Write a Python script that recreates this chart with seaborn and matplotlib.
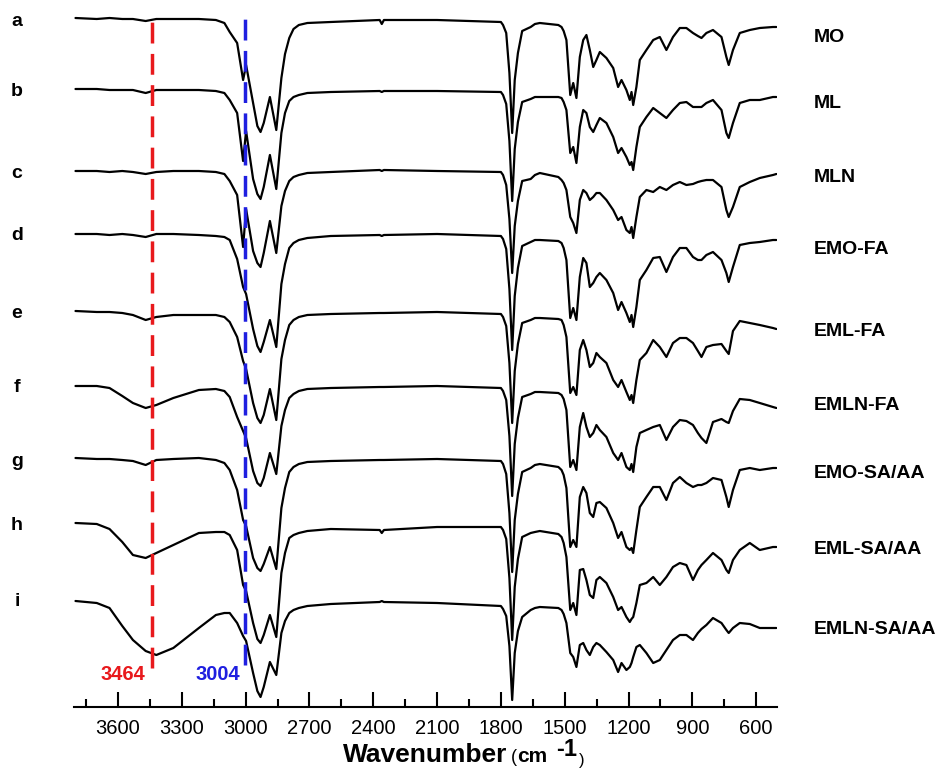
import numpy as np
import pandas as pd
import matplotlib
matplotlib.use("Agg")
import matplotlib.pyplot as plt
import seaborn as sns
from matplotlib.ticker import MultipleLocator

# wavenumber grid (cm-1) shared by all spectra
wavenumber = [3800, 3700, 3640, 3580, 3530, 3470, 3420, 3340, 3220, 3140, 3100,
              3075, 3040, 3012, 2998, 2965, 2945, 2930, 2915, 2886, 2856, 2832, 2815, 2795, 2775, 2750, 2710,
              2600, 2370, 2360, 2350, 2100, 1800, 1790, 1775, 1760, 1747, 1735, 1720, 1700, 1660, 1640, 1617,
              1530, 1515, 1505, 1492, 1474, 1460, 1445, 1429, 1413, 1398, 1382, 1366, 1351, 1335, 1304,
              1272, 1249, 1233, 1210, 1194, 1186, 1178, 1163, 1147,
              1116, 1084, 1053, 1022, 991, 959, 928, 897, 874, 857, 834, 803, 763, 740, 729, 709, 677,
              630, 583, 521, 505]

# transmittance drop (a.u.) of each sample
mo = [0, 1, 0, 1, 1, 3, 1, 1, 1, 2, 5,
      14, 25, 62, 47, 85, 108, 114, 105, 79, 112, 60, 36, 20, 11, 7, 5,
      4, 2, 6, 2, 2, 4, 7, 15, 55, 115, 62, 35, 13, 9, 6, 5,
      7, 9, 13, 22, 77, 65, 80, 39, 22, 17, 32, 49, 42, 34, 40, 50, 69, 62, 72, 82, 74, 87, 69, 42,
      32, 22, 19, 32, 19, 10, 10, 15, 18, 20, 15, 12, 19, 39, 47, 32, 15, 12, 10, 9, 9]
ml = [0, 0, 1, 1, 1, 4, 1, 1, 1, 2, 4,
      11, 24, 72, 42, 90, 105, 110, 98, 66, 100, 44, 24, 12, 8, 6, 4,
      3, 2, 3, 2, 2, 3, 6, 15, 52, 112, 60, 33, 13, 10, 8, 8,
      8, 9, 13, 21, 64, 58, 74, 38, 21, 24, 38, 43, 36, 29, 34, 48, 64, 59, 68, 76, 73, 81, 58, 38,
      28, 19, 24, 29, 21, 14, 13, 18, 18, 18, 14, 11, 21, 44, 49, 34, 14, 11, 11, 8, 8]
mln = [0, 0, 1, 0, 1, 3, 1, 0, 0, 1, 3,
       10, 24, 76, 38, 80, 92, 96, 82, 50, 82, 35, 20, 10, 6, 4, 2,
       1, -1, 0, -1, 0, 1, 4, 14, 48, 102, 55, 30, 10, 8, 4, 2,
       6, 9, 12, 19, 46, 52, 62, 29, 19, 22, 29, 26, 22, 22, 29, 39, 49, 46, 59, 62, 56, 67, 46, 26,
       19, 21, 16, 19, 14, 11, 14, 13, 11, 10, 9, 9, 16, 39, 46, 36, 16, 11, 7, 4, 3]
emo_fa = [0, 0, 1, 0, 1, 3, 0, 0, 1, 2, 3,
          6, 25, 53, 60, 95, 112, 118, 108, 86, 113, 50, 30, 14, 9, 6, 4,
          2, 1, 2, 1, 0, 2, 5, 15, 55, 116, 62, 34, 12, 8, 6, 6,
          7, 9, 14, 26, 84, 74, 86, 43, 24, 29, 53, 49, 43, 39, 46, 59, 76, 68, 79, 88, 81, 93, 73, 46,
          36, 24, 23, 38, 23, 14, 14, 23, 26, 26, 21, 18, 26, 39, 48, 33, 11, 9, 8, 6, 6]
eml_fa = [0, 1, 1, 2, 4, 9, 6, 4, 4, 4, 6,
          11, 26, 50, 58, 92, 107, 112, 104, 78, 109, 48, 29, 14, 9, 6, 4,
          3, 2, 2, 2, 1, 3, 6, 15, 52, 112, 60, 33, 12, 9, 7, 7,
          8, 9, 14, 26, 82, 76, 84, 39, 29, 39, 56, 52, 42, 46, 52, 69, 76, 69, 81, 89, 84, 92, 69, 49,
          42, 29, 36, 46, 32, 27, 27, 32, 40, 46, 36, 34, 33, 40, 43, 20, 10, 12, 14, 17, 18]
emln_fa = [0, 0, 2, 10, 17, 22, 19, 12, 4, 3, 5,
           11, 31, 45, 52, 85, 97, 100, 92, 67, 88, 40, 24, 12, 8, 5, 3,
           2, 1, 1, 1, 0, 2, 5, 14, 50, 110, 58, 32, 11, 8, 6, 6,
           7, 9, 13, 24, 81, 74, 84, 41, 27, 41, 51, 47, 39, 44, 51, 67, 74, 67, 81, 84, 78, 86, 61, 47,
           44, 41, 39, 54, 41, 34, 35, 39, 47, 52, 57, 36, 33, 36, 37, 25, 13, 14, 17, 21, 22]
emo_saaa = [0, 1, 1, 2, 3, 7, 2, 1, 0, 2, 5,
            12, 32, 62, 68, 100, 110, 113, 106, 89, 111, 50, 30, 14, 9, 6, 4,
            3, 2, 2, 2, 1, 3, 6, 16, 55, 114, 62, 36, 14, 10, 7, 6,
            9, 12, 17, 30, 89, 82, 89, 39, 29, 35, 55, 59, 45, 44, 50, 65, 80, 74, 89, 92, 90, 95, 72, 49,
            39, 29, 29, 42, 25, 19, 25, 29, 27, 27, 25, 20, 22, 39, 49, 32, 12, 10, 12, 10, 10]
eml_saaa = [0, 1, 6, 19, 32, 35, 30, 22, 10, 9, 9,
            12, 27, 62, 68, 100, 116, 120, 112, 92, 114, 50, 30, 15, 12, 10, 8,
            6, 7, 10, 7, 4, 4, 7, 16, 55, 117, 64, 36, 14, 10, 9, 8,
            11, 14, 20, 34, 87, 80, 92, 47, 46, 57, 72, 75, 57, 54, 60, 74, 87, 84, 94, 99, 96, 94, 80, 62,
            60, 54, 62, 54, 44, 40, 42, 57, 47, 42, 37, 30, 37, 47, 50, 37, 27, 20, 27, 24, 24]
emln_saaa = [0, 2, 7, 25, 39, 50, 54, 47, 27, 14, 12,
             12, 22, 35, 40, 72, 90, 96, 86, 61, 74, 32, 20, 12, 9, 7, 5,
             3, 1, 0, 1, 2, 5, 8, 15, 45, 99, 52, 30, 16, 9, 7, 6,
             7, 9, 13, 22, 52, 56, 66, 44, 42, 49, 54, 46, 42, 44, 51, 59, 71, 62, 69, 66, 62, 56, 46, 44,
             52, 62, 59, 49, 39, 34, 34, 39, 32, 28, 24, 17, 22, 29, 32, 27, 22, 23, 27, 27, 27]

samples = ["MO", "ML", "MLN", "EMO-FA", "EML-FA", "EMLN-FA", "EMO-SA/AA", "EML-SA/AA", "EMLN-SA/AA"]
letters = ["a", "b", "c", "d", "e", "f", "g", "h", "i"]
spectra = [mo, ml, mln, emo_fa, eml_fa, emln_fa, emo_saaa, eml_saaa, emln_saaa]

# vertical stacking of the traces and label placement
offsets = [689, 618, 536, 473, 396, 321, 249, 184, 106]
letter_y = [686, 616, 534, 472, 394, 320, 245, 182, 105]
name_y = [669, 604, 529, 458, 375, 302, 233, 157, 78]

frames = []
for name, drop, off in zip(samples, spectra, offsets):
    frames.append(pd.DataFrame({"wavenumber": wavenumber,
                                "signal": off - np.array(drop, dtype=float),
                                "sample": name}))
data = pd.concat(frames, ignore_index=True)

sns.set_theme(style="white")
plt.rcParams["font.family"] = ["Liberation Sans", "DejaVu Sans"]
plt.rcParams["text.color"] = "black"

fig = plt.figure(figsize=(9.45, 7.72), dpi=100)
ax = fig.add_axes([74 / 945, 65 / 772, 703 / 945, 707 / 772])

sns.lineplot(data=data, x="wavenumber", y="signal", hue="sample", hue_order=samples,
             palette=["black"] * len(samples), estimator=None, linewidth=1.6,
             legend=False, ax=ax)

ax.set_xlim(3807, 502)
ax.set_ylim(0, 707)
ax.set_xlabel("")
ax.set_ylabel("")
ax.set_yticks([])
for side in ["left", "right", "top"]:
    ax.spines[side].set_visible(False)
ax.spines["bottom"].set_color("black")
ax.spines["bottom"].set_linewidth(1.5)
ax.xaxis.set_major_locator(MultipleLocator(300))
ax.xaxis.set_minor_locator(MultipleLocator(150))
ax.tick_params(axis="x", which="both", bottom=True, direction="in", color="black",
               width=1.5, labelsize=14.5, pad=9, labelcolor="black")
ax.tick_params(axis="x", which="major", length=11)
ax.tick_params(axis="x", which="minor", length=6)

# marker lines for the O-H and =C-H bands
ax.vlines(3442, 39, 695, colors="#e8191c", linewidth=2.5, linestyles=(0, (6, 3)))
ax.vlines(3003, 42, 695, colors="#1f1fe0", linewidth=2.5, linestyles=(0, (6, 3)))
ax.text(3577, 33, "3464", color="#e8191c", fontsize=14.5, fontweight="bold",
        ha="center", va="center")
ax.text(3132, 33, "3004", color="#1f1fe0", fontsize=14.5, fontweight="bold",
        ha="center", va="center")

for letter, y in zip(letters, letter_y):
    ax.text(4075, y, letter, fontsize=14, fontweight="bold", ha="center",
            va="center", clip_on=False)
for name, y in zip(samples, name_y):
    ax.text(329, y, name, fontsize=14, fontweight="bold", ha="left",
            va="center", clip_on=False)

# axis title built from pieces to mimic the mixed font sizes
base = 1 - 762 / 772
fig.text(343 / 945, base, "Wavenumber", fontsize=19, fontweight="bold", va="baseline")
fig.text(511 / 945, base, "(", fontsize=13, va="baseline")
fig.text(517 / 945, base, "cm", fontsize=15, fontweight="bold", va="baseline")
fig.text(556 / 945, 1 - 756 / 772, "-1", fontsize=17, fontweight="bold", va="baseline")
fig.text(579 / 945, 1 - 765 / 772, ")", fontsize=12, va="baseline")

fig.savefig("out.png", dpi=100)
